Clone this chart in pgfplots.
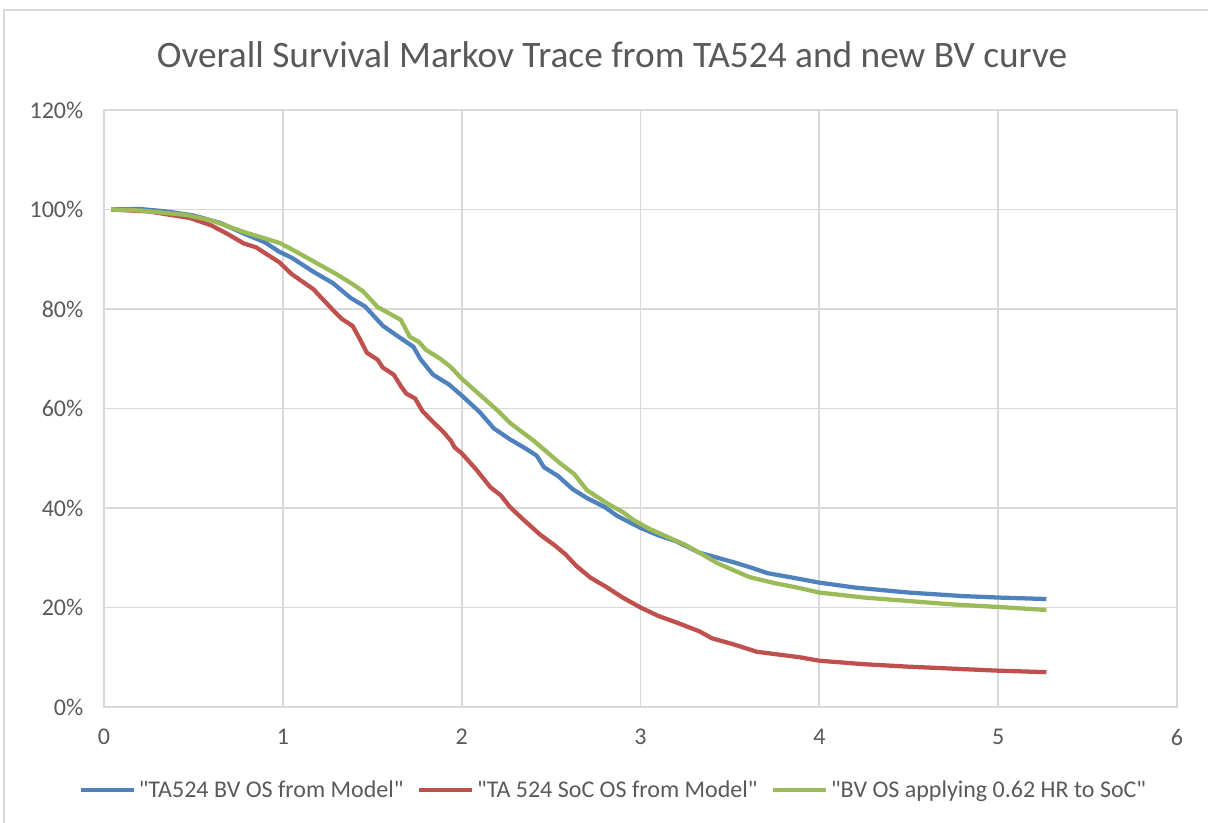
\documentclass[border=0pt]{standalone}
\usepackage{pgfplots}
\pgfplotsset{compat=1.18}
\usepackage{fontspec}
\setmainfont{Carlito}
\newfontfamily\plainfont{Carlito}
\definecolor{txt}{HTML}{595959}
\definecolor{gridc}{HTML}{D9D9D9}
\definecolor{cblue}{HTML}{4F81BD}
\definecolor{cred}{HTML}{C0504D}
\definecolor{cgreen}{HTML}{9BBB59}
\newcommand{\q}{{\plainfont\symbol{34}}}
\begin{document}
\begin{tikzpicture}
\path[use as bounding box] (-78pt,-87pt) rectangle (828pt,530.25pt);
\draw[gridc, line width=1pt] (-75pt,-90pt) rectangle (830pt,522.75pt);
\node[txt, font=\fontsize{28}{32}\selectfont] at (381pt,489pt) {Overall Survival Markov Trace from TA524 and new BV curve};
\begin{axis}[
  scale only axis,
  width=804.75pt, height=447.75pt,
  xmin=0, xmax=6, ymin=0, ymax=120,
  xtick={0,1,...,6}, ytick={0,20,...,120},
  yticklabel={\pgfmathprintnumber{\tick}\%},
  /pgf/number format/assume math mode=true,
  grid=major,
  major grid style={gridc, line width=1.3pt},
  axis line style={gridc, line width=1.3pt},
  tick style={draw=none},
  ticklabel style={font=\fontsize{18}{21}\selectfont, text=txt},
  xticklabel style={yshift=-13pt},
  yticklabel style={xshift=-12pt},
  legend columns=3,
  legend style={at={(0.475,-0.139)}, anchor=center, draw=none, fill=none,
    font=\fontsize{18}{21}\selectfont, text=txt,
    /tikz/every even column/.append style={column sep=8pt}},
  legend image code/.code={\draw[#1, line width=3.2pt] (0pt,0pt) -- (40pt,0pt);},
  every axis plot/.append style={line width=3.2pt, line join=round},
]
\addplot[cblue] coordinates {
(0.04,100) (0.2,100.1) (0.35,99.6) (0.5,98.8) (0.65,97.3) (0.78,95.2) (0.9,93.4) (0.98,91.5)
(1.05,90.3) (1.17,87.5) (1.28,85.2) (1.38,82.2) (1.46,80.5) (1.56,76.6) (1.64,74.6) (1.73,72.4)
(1.77,69.9) (1.84,66.8) (1.93,64.8) (2.01,62.3) (2.1,59.3) (2.18,56.0) (2.27,53.8) (2.36,51.9)
(2.42,50.5) (2.46,48.2) (2.54,46.4) (2.62,43.8) (2.7,42.0) (2.8,40.2) (2.87,38.4) (3.0,36.0)
(3.1,34.5) (3.2,33.3) (3.33,31.0) (3.52,29.1) (3.62,28.0) (3.71,26.9) (3.85,26.0) (4.0,25.0)
(4.2,24.0) (4.5,23.0) (4.8,22.3) (5.0,22.0) (5.27,21.7)
};
\addlegendentry{\q TA524 BV OS from Model\q}
\addplot[cred] coordinates {
(0.04,100) (0.25,99.6) (0.48,98.3) (0.6,96.8) (0.69,95.1) (0.78,93.2) (0.85,92.4) (0.98,89.4)
(1.05,87.0) (1.17,84.0) (1.28,79.8) (1.33,78.0) (1.39,76.6) (1.43,74.0) (1.47,71.2) (1.53,69.8)
(1.56,68.2) (1.62,66.8) (1.66,64.5) (1.69,63.0) (1.74,62.0) (1.78,59.5) (1.84,57.3) (1.9,55.2)
(1.94,53.5) (1.96,52.2) (2.0,51.0) (2.08,47.8) (2.16,44.2) (2.22,42.5) (2.27,40.2) (2.35,37.5)
(2.44,34.6) (2.52,32.5) (2.58,30.7) (2.64,28.4) (2.72,26.0) (2.81,24.1) (2.9,22.0) (3.0,20.0)
(3.1,18.3) (3.2,17.0) (3.33,15.2) (3.4,13.8) (3.52,12.6) (3.65,11.1) (3.89,10.0) (4.0,9.3)
(4.25,8.6) (4.5,8.1) (4.75,7.7) (5.0,7.3) (5.27,7.0)
};
\addlegendentry{\q TA 524 SoC OS from Model\q}
\addplot[cgreen] coordinates {
(0.04,100) (0.2,99.8) (0.46,98.9) (0.6,97.8) (0.78,95.5) (0.98,93.3) (1.05,92.0) (1.19,89.2)
(1.3,87.0) (1.39,85.0) (1.45,83.5) (1.53,80.4) (1.6,79.0) (1.66,77.8) (1.71,74.4) (1.76,73.4)
(1.80,71.8) (1.88,70.0) (1.94,68.3) (2.0,66.0) (2.1,62.8) (2.21,59.3) (2.27,57.1) (2.4,53.6)
(2.55,49.0) (2.63,46.8) (2.70,43.6) (2.81,41.0) (2.9,39.2) (2.96,37.6) (3.05,35.8) (3.15,34.2)
(3.25,32.6) (3.33,31.0) (3.43,28.9) (3.61,26.1) (3.75,24.9) (3.89,23.9) (4.0,23.0) (4.25,22.0)
(4.5,21.3) (4.75,20.6) (5.0,20.1) (5.27,19.5)
};
\addlegendentry{\q BV OS applying 0.62 HR to SoC\q}
\end{axis}
\end{tikzpicture}
\end{document}
